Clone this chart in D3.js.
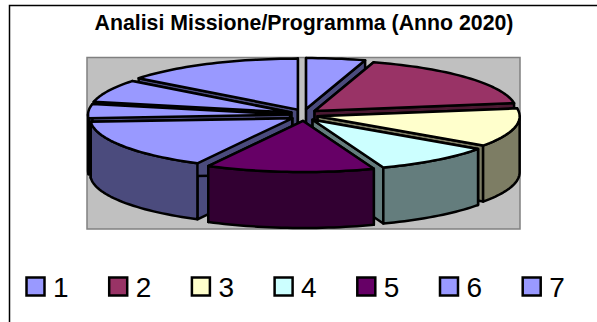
<!DOCTYPE html>
<html>
<head>
<meta charset="utf-8">
<script src="https://cdn.jsdelivr.net/npm/d3@7"></script>
<style>
  html, body { margin: 0; padding: 0; background: #fff; }
  svg { display: block; font-family: "Liberation Sans", Arial, sans-serif; }
</style>
</head>
<body>
<div id="chart"></div>
<script>
// values (slice sweep, roughly degrees)
const title = "Analisi Missione/Programma (Anno 2020)";
const sliceValues = [17, 64, 44, 34.5, 48.5, 58, 16, 26, 52];
const sliceColors = ["#9999ff", "#993366", "#ffffcc", "#ccffff", "#660066", "#9999ff", "#9999ff", "#9999ff", "#9999ff"];
const legendLabels = ["1", "2", "3", "4", "5", "6", "7"];

const width = 597;
const height = 322;
const cx = 304, cy = 115;
const rx = 202, ry = 51;
const depth = 56;
const explodeX = 14, explodeY = 6;

const svg = d3.select("#chart").append("svg").attr("width", width).attr("height", height);

// chart frame, only top and left edges show in the picture
svg.append("path")
  .attr("d", "M9.5,322V5.5H" + width)
  .attr("fill", "none")
  .attr("stroke", "#000")
  .attr("stroke-width", 1.5);

svg.append("text")
  .attr("x", 304)
  .attr("y", 30)
  .attr("text-anchor", "middle")
  .attr("font-size", 21.3)
  .attr("font-weight", "bold")
  .text(title);

// grey plot area
svg.append("rect")
  .attr("x", 87).attr("y", 57.5)
  .attr("width", 433).attr("height", 171.5)
  .attr("fill", "#c0c0c0")
  .attr("stroke", "#808080")
  .attr("stroke-width", 1.5);

//----------------------------PIE-----------------------------//
const pie = d3.pie().sort(null).value((d) => d);
const arcs = pie(sliceValues).map((a, i) => ({
  ...a,
  color: sliceColors[i],
  mid: (a.startAngle + a.endAngle) / 2,
}));

const line = d3.line();
// project an angle on the tilted ellipse, 0 = 12 o'clock, clockwise
const px = (s, r, t) => cx + explodeX * Math.sin(s.mid) + r * rx * Math.sin(t);
const py = (s, r, t) => cy - explodeY * Math.cos(s.mid) - r * ry * Math.cos(t);

function arcPoints(s, a0, a1, down) {
  const n = Math.max(2, Math.ceil((a1 - a0) / 0.03));
  return d3.range(n + 1).map((k) => {
    const t = a0 + ((a1 - a0) * k) / n;
    return [px(s, 1, t), py(s, 1, t) + down];
  });
}

// back slices first so the front ones paint over them
const ordered = arcs.slice().sort((a, b) => d3.descending(Math.cos(a.mid), Math.cos(b.mid)));

const g = svg.append("g")
  .attr("stroke", "#000")
  .attr("stroke-width", 2.5)
  .attr("stroke-linejoin", "round");

ordered.forEach((s) => {
  const side = d3.rgb(s.color).darker(2).formatHex();
  const slice = g.append("g");
  const apex = [px(s, 0, 0), py(s, 0, 0)];

  // cut faces
  [s.startAngle, s.endAngle].forEach((t) => {
    const edge = [px(s, 1, t), py(s, 1, t)];
    slice.append("path")
      .attr("fill", side)
      .attr("d", line([apex, edge, [edge[0], edge[1] + depth], [apex[0], apex[1] + depth]]) + "Z");
  });

  // outer wall, only the part turned towards the viewer
  const a0 = Math.max(s.startAngle, Math.PI / 2);
  const a1 = Math.min(s.endAngle, (3 * Math.PI) / 2);
  if (a1 > a0) {
    const topEdge = arcPoints(s, a0, a1, 0);
    const bottomEdge = arcPoints(s, a0, a1, depth).reverse();
    slice.append("path")
      .attr("fill", side)
      .attr("d", line(topEdge.concat(bottomEdge)) + "Z");
  }

  // top face
  slice.append("path")
    .attr("fill", s.color)
    .attr("d", line([apex].concat(arcPoints(s, s.startAngle, s.endAngle, 0))) + "Z");
});

//----------------------------LEGEND----------------------------//
const legendX = d3.scaleBand()
  .domain(legendLabels)
  .range([26, 26 + 82.7 * legendLabels.length]);

const legend = svg.selectAll(".legend-item")
  .data(legendLabels)
  .enter()
  .append("g")
  .attr("class", "legend-item")
  .attr("transform", (d) => "translate(" + legendX(d) + ",277)");

legend.append("rect")
  .attr("x", 0.5).attr("y", 0.5)
  .attr("width", 18).attr("height", 18)
  .attr("fill", (d, i) => sliceColors[i])
  .attr("stroke", "#000")
  .attr("stroke-width", 2.5);

legend.append("text")
  .attr("x", 27)
  .attr("y", 20)
  .attr("font-size", 28)
  .text((d) => d);
</script>
</body>
</html>
